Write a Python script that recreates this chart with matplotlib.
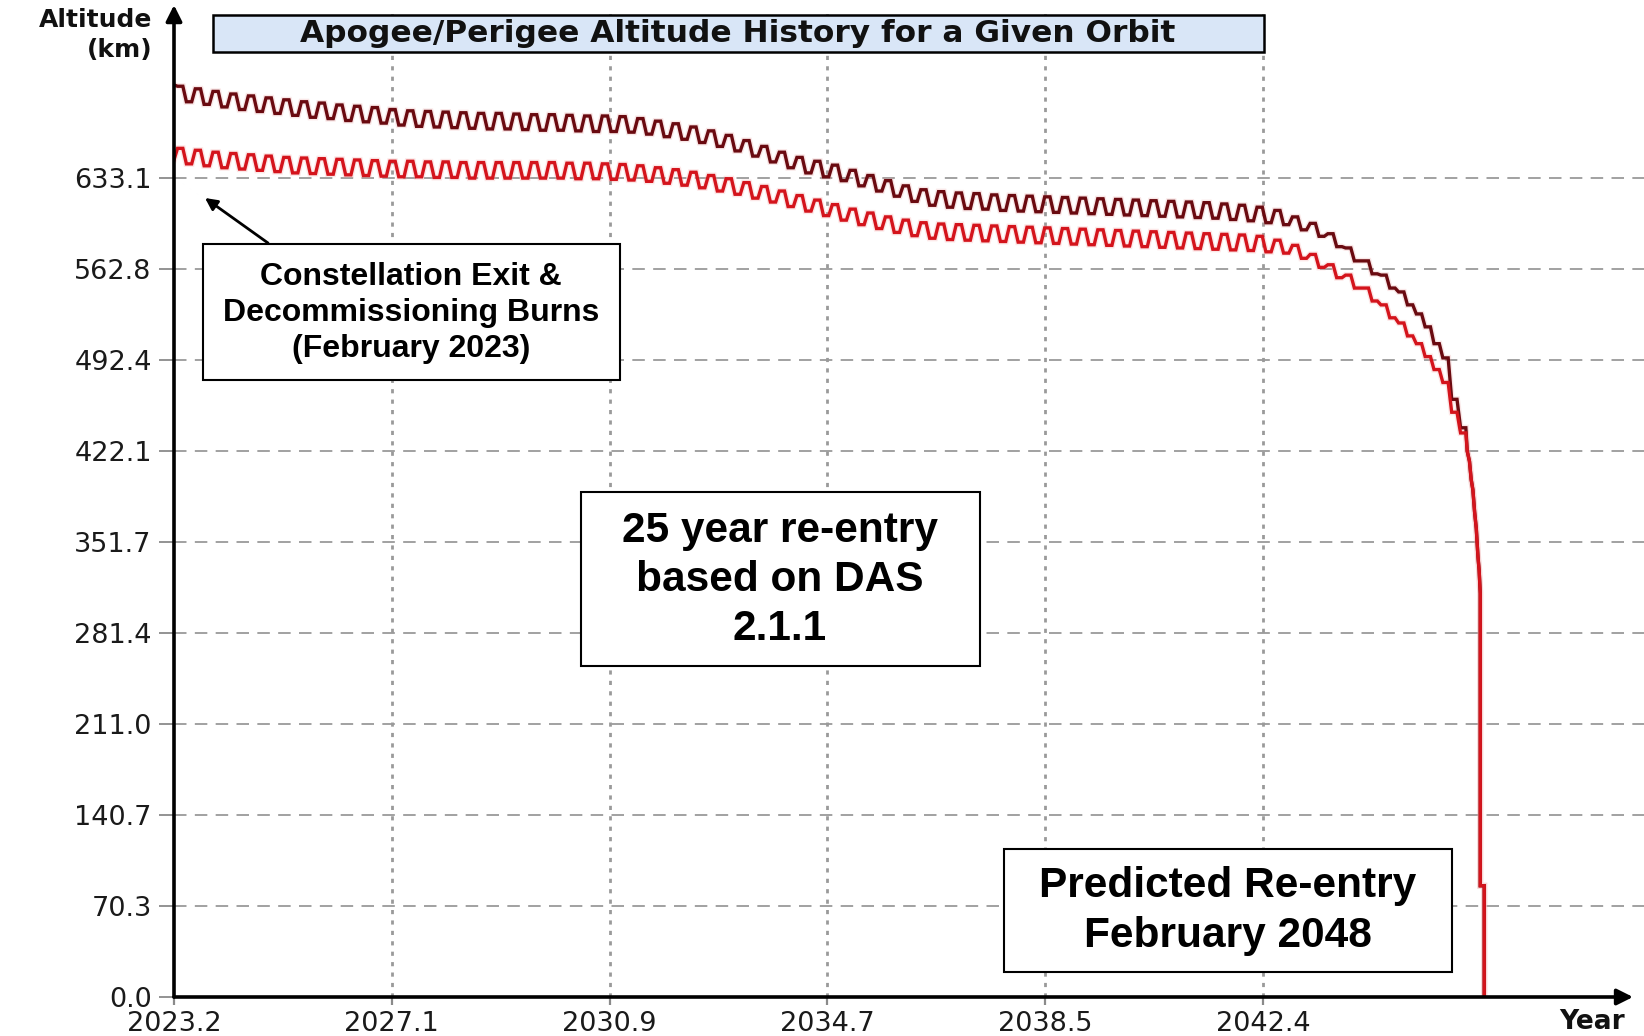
import numpy as np
import matplotlib
matplotlib.use("Agg")
import matplotlib.pyplot as plt
from matplotlib.patches import Rectangle

plt.rcParams['lines.scale_dashes'] = False

W, H = 1644, 1036

# ---------------- data ----------------
start_year = 2023.2
cycle_years = 0.312          # length of one oscillation cycle

apogee_start = 705
perigee_start = 647

apogee_peaks = [704, 702, 700, 698, 696.5, 695, 693.5, 692, 691, 689.5,
                688.5, 687.5, 686, 685, 684.5, 684, 683.5, 683, 683, 682.5,
                682, 682, 681.5, 681, 681, 680.5, 679, 677, 675, 672.5,
                669.5, 666, 662, 657.5, 653, 649, 646, 643, 639, 635,
                631, 627, 624, 622.5, 621.5, 621, 620, 619.5, 619, 618.5,
                618, 617.5, 617, 616.5, 616, 615.5, 615, 614.5, 614, 613,
                612, 610.5, 608, 603, 598, 590, 579, 569, 558, 545,
                528, 505, 462]
apogee_troughs = [692, 690, 688, 686, 684.5, 683, 681.5, 680, 679, 677.5,
                  676.5, 675.5, 674, 673, 672.5, 672, 671.5, 671, 671, 670.5,
                  670, 670, 669.5, 669, 669, 668.5, 667, 665, 663, 660.5,
                  657.5, 654, 650, 645.5, 641, 637, 634, 631, 627, 623,
                  619, 615, 612, 610.5, 609.5, 609, 608, 607.5, 607, 606.5,
                  606, 605.5, 605, 604.5, 604, 603.5, 603, 602.5, 602, 601,
                  600, 598.5, 597, 593, 588, 580, 569, 559, 548, 535,
                  518, 494, 440]

perigee_peaks = [656, 654.5, 653, 652, 651, 650, 649, 648.5, 648, 647.5,
                 647, 646.5, 646, 646, 645.5, 645.5, 645, 645, 645, 645,
                 645, 645, 644.5, 644.5, 644, 643.5, 642.5, 641, 639.5, 637.5,
                 635, 632.5, 629.5, 626.5, 623, 619.5, 616, 612.5, 609, 606,
                 603, 600.5, 598.5, 597.5, 597, 596.5, 596, 595.5, 595, 594.5,
                 594, 593.5, 593, 592.5, 592, 591.5, 591, 590.5, 590, 589.5,
                 589, 588, 585, 581, 574, 566, 558, 548, 535, 521,
                 505, 485, 452]
perigee_troughs = [644, 642.5, 641, 640, 639, 638, 637, 636.5, 636, 635.5,
                   635, 634.5, 634, 634, 633.5, 633.5, 633, 633, 633, 633,
                   633, 633, 632.5, 632.5, 632, 631.5, 630.5, 629, 627.5, 625.5,
                   623, 620.5, 617.5, 614.5, 611, 607.5, 604, 600.5, 597, 594,
                   591, 588.5, 586.5, 585.5, 585, 584.5, 584, 583.5, 583, 582.5,
                   582, 581.5, 581, 580.5, 580, 579.5, 579, 578.5, 578, 577.5,
                   577, 576, 575, 571, 564, 556, 548, 538, 525, 511,
                   495, 475, 436]

# final re-entry descent shared by both curves
tail_years = [2046.00, 2046.04, 2046.07, 2046.10, 2046.13, 2046.16, 2046.19,
              2046.21, 2046.23, 2046.23, 2046.30, 2046.30]
tail_alt = [422, 414, 400, 392, 375, 362, 340, 330, 312, 86, 86, 0]

y_ticks = [0.0, 70.3, 140.7, 211.0, 281.4, 351.7, 422.1, 492.4, 562.8, 633.1]
y_tick_labels = ["0.0", "70.3", "140.7", "211.0", "281.4", "351.7",
                 "422.1", "492.4", "562.8", "633.1"]
x_tick_labels = ["2023.2", "2027.1", "2030.9", "2034.7", "2038.5", "2042.4"]

title_text = "Apogee/Perigee Altitude History for a Given Orbit"
note_exit = "Constellation Exit &\nDecommissioning Burns\n(February 2023)"
note_das = "25 year re-entry\nbased on DAS\n2.1.1"
note_pred = "Predicted Re-entry\nFebruary 2048"


def build_series(start_val, peaks, troughs):
    xs, ys = [start_year], [start_val]
    shape = [(0.2, 'p'), (0.5, 'p'), (0.7, 't'), (1.0, 't')]
    for k, (pk, tr) in enumerate(zip(peaks, troughs)):
        t0 = start_year + k * cycle_years
        for off, kind in shape:
            xs.append(t0 + off * cycle_years)
            ys.append(pk if kind == 'p' else tr)
    xs += tail_years
    ys += tail_alt
    return np.array(xs), np.array(ys)


apo_x, apo_y = build_series(apogee_start, apogee_peaks, apogee_troughs)
per_x, per_y = build_series(perigee_start, perigee_peaks, perigee_troughs)

# ---------------- figure ----------------
fig = plt.figure(figsize=(W / 100, H / 100), dpi=100)
fig.patch.set_facecolor('white')

left_px, right_px, top_px, base_px = 174, 1644, 10, 997
ax = fig.add_axes([left_px / W, (H - base_px) / H,
                   (right_px - left_px) / W, (base_px - top_px) / H])
px_per_year = 56.72
px_per_km = 1.2937
ax.set_xlim(start_year, start_year + (right_px - left_px) / px_per_year)
ax.set_ylim(0, (base_px - top_px) / px_per_km)

for s in ax.spines.values():
    s.set_visible(False)

x_tick_pos = np.linspace(2023.2, 2042.4, len(x_tick_labels))
ax.set_xticks(x_tick_pos)
ax.set_xticklabels(x_tick_labels)
ax.set_yticks(y_ticks)
ax.set_yticklabels(y_tick_labels)

for lab in ax.get_xticklabels() + ax.get_yticklabels():
    lab.set_fontfamily('DejaVu Sans')
    lab.set_fontsize(19.5)
    lab.set_color('#1a1a1a')
ax.tick_params(axis='y', length=11, width=1.3, color='#8a8a8a', pad=5)
ax.tick_params(axis='x', length=6, width=1.6, color='#8a8a8a', pad=4)

# grid
ax.set_axisbelow(True)
for yv in y_ticks[1:]:
    ax.axhline(yv, color='#9a9a9a', lw=1.3, ls=(0, (9, 6)), zorder=0)
for xv in x_tick_pos[1:]:
    ax.axvline(xv, color='#9a9a9a', lw=2.0, ls=(0, (3, 4.5)), zorder=0)

# curves
ax.plot(apo_x, apo_y, color='#e8a0a0', lw=4.4, alpha=0.25, zorder=2,
        solid_joinstyle='miter')
ax.plot(per_x, per_y, color='#f4a0a0', lw=4.4, alpha=0.25, zorder=2,
        solid_joinstyle='miter')
ax.plot(apo_x, apo_y, color='#6a0a10', lw=2.4, zorder=3,
        solid_joinstyle='miter')
ax.plot(per_x, per_y, color='#d4141c', lw=2.4, zorder=4,
        solid_joinstyle='miter')

# axis lines with arrows
ax.annotate('', xy=(0, 1.005), xytext=(0, 0), xycoords='axes fraction',
            arrowprops=dict(arrowstyle='-|>', color='black', lw=2.6,
                            mutation_scale=24, shrinkA=0, shrinkB=0),
            annotation_clip=False, zorder=6)
ax.annotate('', xy=((1633 - left_px) / (right_px - left_px), 0), xytext=(0, 0),
            xycoords='axes fraction',
            arrowprops=dict(arrowstyle='-|>', color='black', lw=2.6,
                            mutation_scale=24, shrinkA=0, shrinkB=0),
            annotation_clip=False, zorder=6)


# ---------------- text & boxes (figure pixel positions) ----------------
def px_rect(x0, y0, x1, y1, **kw):
    r = Rectangle((x0 / W, 1 - y1 / H), (x1 - x0) / W, (y1 - y0) / H,
                  transform=fig.transFigure, **kw)
    fig.add_artist(r)


def px_text(x, y, s, **kw):
    return fig.text(x / W, 1 - y / H, s, **kw)


# title
px_rect(213, 15, 1264, 52, facecolor='#d9e6f7', edgecolor='black', lw=1.8,
        zorder=10)
px_text(738, 34, title_text, ha='center', va='center', fontsize=22.5,
        fontweight='bold', family='DejaVu Sans', color='#111111', zorder=11)

# axis titles
px_text(152, 35, "Altitude\n(km)", ha='right', va='center', fontsize=18,
        fontweight='bold', family='DejaVu Sans', multialignment='right',
        linespacing=1.35, color='#111111')
px_text(1625, 1022, "Year", ha='right', va='center', fontsize=19,
        fontweight='bold', family='DejaVu Sans', color='#111111')

# note boxes
px_rect(203, 244, 620, 380, facecolor='white', edgecolor='black', lw=1.5,
        zorder=10)
px_text(411, 313, note_exit, ha='center', va='center', fontsize=23,
        fontweight='bold', family='Liberation Sans', linespacing=1.27,
        multialignment='center', zorder=11)

px_rect(581, 492, 980, 666, facecolor='white', edgecolor='black', lw=1.5,
        zorder=10)
px_text(780, 580, note_das, ha='center', va='center', fontsize=30.5,
        fontweight='bold', family='Liberation Sans', linespacing=1.3,
        multialignment='center', zorder=11)

px_rect(1004, 849, 1452, 972, facecolor='white', edgecolor='black', lw=1.5,
        zorder=10)
px_text(1228, 911, note_pred, ha='center', va='center', fontsize=30.5,
        fontweight='bold', family='Liberation Sans', linespacing=1.3,
        multialignment='center', zorder=11)

# arrow from note box to start of curves
ax.annotate('', xy=(205, H - 198), xytext=(268, H - 243),
            xycoords='figure pixels', textcoords='figure pixels',
            arrowprops=dict(arrowstyle='-|>', color='black', lw=2.0,
                            mutation_scale=18, shrinkA=0, shrinkB=0),
            annotation_clip=False, zorder=12)

fig.savefig('out.png', dpi=100, facecolor='white')
